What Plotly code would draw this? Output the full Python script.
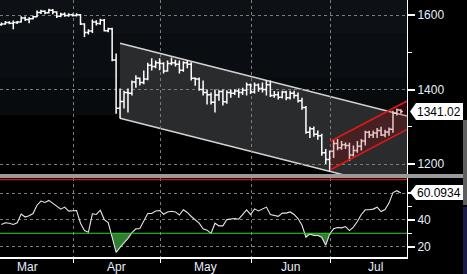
import plotly.graph_objects as go

# ---------------- data ----------------
# weekday index of each bar (0 = 1 March)
day = list(range(2, 104))

open_ = [1574, 1576, 1580, 1578, 1580, 1581, 1592, 1588, 1590, 1595, 1607, 1610, 1606, 1613, 1608, 1597, 1602, 1599, 1601,
         1599, 1601, 1576, 1553, 1557, 1581, 1577, 1586, 1558, 1563, 1479, 1350, 1368, 1392, 1390, 1420, 1430, 1419, 1428, 1465, 1462, 1472,
         1470, 1450, 1470, 1472, 1468, 1452, 1472, 1468, 1430, 1428, 1400, 1392, 1386, 1366, 1385, 1395, 1367, 1392, 1390, 1396, 1392, 1398, 1413,
         1393, 1412, 1403, 1400, 1413, 1384, 1386, 1379, 1393, 1378, 1390, 1384, 1370, 1352, 1285, 1295, 1280, 1276, 1230, 1212,
         1234, 1255, 1244, 1252, 1250, 1224, 1236, 1248, 1262, 1285, 1278, 1283, 1290, 1278, 1286, 1293, 1336, 1345]
high = [1580, 1584, 1583, 1585, 1584, 1597, 1596, 1594, 1598, 1612, 1614, 1613, 1617, 1616, 1610, 1606, 1607, 1605, 1604,
        1605, 1603, 1578, 1562, 1588, 1586, 1590, 1589, 1566, 1566, 1497, 1403, 1397, 1403, 1424, 1438, 1432, 1451, 1472, 1484, 1478, 1484,
        1473, 1478, 1486, 1480, 1478, 1476, 1478, 1473, 1432, 1432, 1424, 1400, 1392, 1400, 1398, 1400, 1398, 1400, 1400, 1403, 1405, 1419, 1416,
        1419, 1416, 1419, 1424, 1424, 1396, 1395, 1397, 1397, 1397, 1397, 1392, 1378, 1356, 1300, 1301, 1290, 1281, 1240, 1236,
        1267, 1267, 1262, 1258, 1257, 1250, 1262, 1267, 1289, 1289, 1290, 1297, 1300, 1292, 1298, 1343, 1349, 1347]
low = [1571, 1574, 1575, 1562, 1576, 1580, 1584, 1578, 1588, 1594, 1603, 1602, 1604, 1602, 1592, 1594, 1595, 1595, 1596,
       1596, 1573, 1541, 1548, 1552, 1572, 1574, 1556, 1554, 1476, 1335, 1322, 1349, 1338, 1384, 1405, 1411, 1414, 1425, 1451, 1457, 1452,
       1443, 1448, 1465, 1462, 1443, 1448, 1457, 1424, 1410, 1397, 1384, 1360, 1360, 1338, 1370, 1357, 1362, 1378, 1385, 1378, 1385, 1384, 1388,
       1389, 1394, 1392, 1384, 1380, 1378, 1373, 1376, 1371, 1373, 1376, 1365, 1346, 1281, 1270, 1273, 1265, 1222, 1200, 1181,
       1216, 1237, 1238, 1240, 1208, 1220, 1230, 1236, 1250, 1270, 1270, 1270, 1275, 1272, 1276, 1284, 1330, 1335]
close = [1576, 1580, 1578, 1580, 1581, 1592, 1588, 1590, 1595, 1607, 1610, 1606, 1613, 1608, 1597, 1602, 1599, 1601, 1599,
         1601, 1576, 1553, 1557, 1581, 1577, 1586, 1558, 1563, 1479, 1350, 1368, 1392, 1390, 1420, 1430, 1419, 1428, 1465, 1462, 1472, 1470,
         1450, 1470, 1472, 1468, 1452, 1472, 1468, 1430, 1428, 1400, 1392, 1386, 1366, 1385, 1395, 1367, 1392, 1390, 1396, 1392, 1398, 1413, 1393,
         1412, 1403, 1400, 1413, 1384, 1386, 1379, 1393, 1378, 1390, 1384, 1370, 1352, 1285, 1295, 1280, 1276, 1230, 1212, 1234,
         1255, 1244, 1252, 1250, 1224, 1236, 1248, 1262, 1285, 1278, 1283, 1290, 1278, 1286, 1293, 1336, 1345, 1341.02]
rsi = [36.5, 37.8, 37.5, 36.6, 37.8, 44.3, 42.1, 43.1, 44.7, 50.9, 54.0, 53.0, 54.5, 52.5, 50.5, 48.0, 49.5, 46.5, 46.8,
       47.0, 37.5, 32.0, 30.8, 44.5, 44.0, 47.2, 40.2, 38.0, 27.0, 15.7, 19.5, 22.8, 26.2, 30.5, 33.3, 33.5, 39.0, 44.7, 44.7, 46.6, 47.0,
       44.2, 45.9, 46.4, 45.9, 43.6, 47.5, 45.5, 42.5, 40.0, 37.5, 33.4, 32.3, 29.8, 37.5, 35.5, 35.5, 40.2, 40.5, 41.0, 40.5, 44.2, 47.5, 44.0,
       48.2, 46.6, 48.2, 49.5, 44.0, 43.4, 42.6, 45.0, 45.0, 45.9, 44.0, 41.0, 36.0, 27.0, 29.5, 28.3, 28.3, 27.0, 21.0, 29.5,
       33.3, 34.3, 34.0, 35.0, 32.0, 34.6, 38.8, 44.0, 47.5, 47.5, 48.0, 49.4, 46.2, 47.7, 52.5, 60.3, 61.7, 60.0934]

last_price_label = "1341.02"
last_rsi_label = "60.0934"

months = ["Mar", "Apr", "May", "Jun", "Jul"]
month_first_day = [-1, 21, 43, 66, 86]      # weekday index of each month's first bar
month_weekdays = [21, 22, 23, 20, 23]

price_ticks = [1200, 1400, 1600]
price_minor = [1300, 1500]
rsi_ticks = [20, 40, 60]
rsi_ticktext = ["20", "40", ""]
rsi_minor = [30, 50]
rsi_low, rsi_high = 30, 70

# trend channels (weekday index, price)
gray_chan_x = [31.98, 104.55]
gray_chan_top = [1524.0, 1328.9]
gray_chan_bot = [1322.7, 1127.8]
red_chan_x = [85.08, 104.55]
red_chan_top = [1260.4, 1369.1]
red_chan_bot = [1183.9, 1292.6]

# ---------------- layout helpers ----------------
W, H = 467, 274
PW, PH = 407, 257          # plot area in px
X_RANGE = [1.643, 104.55]
GRID_OFFSET = -0.8
boundaries = [m + GRID_OFFSET for m in month_first_day[1:]]
starts = [m + GRID_OFFSET for m in month_first_day]
label_pos = [s + n / 2 for s, n in zip(starts, month_weekdays)]


def px(xp):
    return xp / PW


def py(yp):
    return 1 - yp / PH


def ppath(pts):
    return "M " + " L ".join(f"{px(a):.5f},{py(b):.5f}" for a, b in pts) + " Z"


FONT = "Liberation Sans, Arial, sans-serif"
LABEL_COLOR = "#e4eefa"
GRID = dict(showgrid=True, gridcolor="#7c7c7c", griddash="3px,3px", gridwidth=1)

fig = go.Figure()

fig.add_trace(go.Ohlc(
    x=day, open=open_, high=high, low=low, close=close,
    increasing=dict(line=dict(color="white", width=1.5)),
    decreasing=dict(line=dict(color="white", width=1.5)),
    tickwidth=0.5, xaxis="x", yaxis="y", hoverinfo="skip", showlegend=False))

# RSI fill below 30
fill_x, fill_y = [], []
for i in range(len(day)):
    if i > 0:
        a, b = rsi[i - 1], rsi[i]
        if (a - rsi_low) * (b - rsi_low) < 0:
            t = (rsi_low - a) / (b - a)
            fill_x.append(day[i - 1] + t * (day[i] - day[i - 1]))
            fill_y.append(rsi_low)
    fill_x.append(day[i])
    fill_y.append(min(rsi[i], rsi_low))

fig.add_trace(go.Scatter(x=fill_x, y=[rsi_low] * len(fill_x), mode="lines",
                         line=dict(width=0, color="rgba(0,0,0,0)"), xaxis="x", yaxis="y2",
                         hoverinfo="skip", showlegend=False))
fig.add_trace(go.Scatter(x=fill_x, y=fill_y, mode="lines", fill="tonexty",
                         fillcolor="rgba(52,140,52,0.9)", line=dict(width=0, color="rgba(0,0,0,0)"),
                         xaxis="x", yaxis="y2", hoverinfo="skip", showlegend=False))
fig.add_trace(go.Scatter(x=day, y=rsi, mode="lines", line=dict(color="#e6e6e6", width=1.1),
                         xaxis="x", yaxis="y2", hoverinfo="skip", showlegend=False))

shapes = []
# upper panel background gradient bands
for y0, y1, col in [(0.339, 0.55, "#080b0e"), (0.55, 0.8, "#0a0d11"), (0.8, 1.0, "#0d1115")]:
    shapes.append(dict(type="rect", xref="x domain", yref="y domain", x0=0, x1=1, y0=y0, y1=y1,
                       fillcolor=col, line=dict(width=0), layer="below"))
# gray channel
shapes.append(dict(type="path", xref="x", yref="y", layer="below",
                   path=(f"M {gray_chan_x[0]},{gray_chan_top[0]} L {gray_chan_x[1]},{gray_chan_top[1]} "
                         f"L {gray_chan_x[1]},{gray_chan_bot[1]} L {gray_chan_x[0]},{gray_chan_bot[0]} Z"),
                   fillcolor="#2a2b2d", line=dict(width=0)))
for ys in (gray_chan_top, gray_chan_bot):
    shapes.append(dict(type="line", xref="x", yref="y", layer="below",
                       x0=gray_chan_x[0], x1=gray_chan_x[1], y0=ys[0], y1=ys[1],
                       line=dict(color="#d4d4d4", width=1.5)))
# red channel (over bars)
shapes.append(dict(type="path", xref="x", yref="y", layer="above",
                   path=(f"M {red_chan_x[0]},{red_chan_top[0]} L {red_chan_x[1]},{red_chan_top[1]} "
                         f"L {red_chan_x[1]},{red_chan_bot[1]} L {red_chan_x[0]},{red_chan_bot[0]} Z"),
                   fillcolor="rgba(170,0,0,0.22)", line=dict(width=0)))
for ys in (red_chan_top, red_chan_bot):
    shapes.append(dict(type="line", xref="x", yref="y", layer="above",
                       x0=red_chan_x[0], x1=red_chan_x[1], y0=ys[0], y1=ys[1],
                       line=dict(color="#e01818", width=1.5)))
# RSI levels
shapes.append(dict(type="line", xref="x domain", yref="y2", x0=0, x1=1, y0=rsi_high, y1=rsi_high,
                   line=dict(color="#d81010", width=1.2), layer="above"))
shapes.append(dict(type="line", xref="x domain", yref="y2", x0=0, x1=1, y0=rsi_low, y1=rsi_low,
                   line=dict(color="#30d030", width=1.2), layer="above"))
# separator band
shapes.append(dict(type="rect", xref="paper", yref="paper", x0=0, x1=px(W), y0=py(178), y1=py(174),
                   fillcolor="#9a9a9a", line=dict(width=0), layer="above"))
# right edge scrollbar pieces
shapes.append(dict(type="rect", xref="paper", yref="paper", x0=px(463), x1=px(467), y0=py(205), y1=py(120),
                   fillcolor="#5e5e5e", line=dict(width=0), layer="above"))
shapes.append(dict(type="rect", xref="paper", yref="paper", x0=px(463), x1=px(467), y0=py(274), y1=py(207),
                   fillcolor="#1a1a46", line=dict(width=0), layer="above"))
# value tags
shapes.append(dict(type="path", xref="paper", yref="paper", layer="above",
                   path=ppath([(410, 111.5), (416, 103), (463, 103), (463, 120), (416, 120)]),
                   fillcolor="white", line=dict(width=0)))
shapes.append(dict(type="path", xref="paper", yref="paper", layer="above",
                   path=ppath([(410, 192.5), (416, 185), (463, 185), (463, 200), (416, 200)]),
                   fillcolor="white", line=dict(width=0)))

annotations = []
for m, xpos in zip(months, label_pos):
    annotations.append(dict(x=xpos, xref="x", y=py(266.5), yref="paper", text=m, showarrow=False,
                            xanchor="center", yanchor="middle",
                            font=dict(family=FONT, size=12, color=LABEL_COLOR)))
annotations.append(dict(x=px(439.5), y=py(111.5), xref="paper", yref="paper", text=last_price_label,
                        showarrow=False, xanchor="center", yanchor="middle",
                        font=dict(family=FONT, size=12, color="black")))
annotations.append(dict(x=px(439.5), y=py(192.5), xref="paper", yref="paper", text=last_rsi_label,
                        showarrow=False, xanchor="center", yanchor="middle",
                        font=dict(family=FONT, size=12, color="black")))

fig.update_layout(
    width=W, height=H, autosize=False,
    margin=dict(l=0, r=W - PW, t=0, b=H - PH, pad=0),
    paper_bgcolor="black", plot_bgcolor="black",
    showlegend=False, hovermode=False,
    shapes=shapes, annotations=annotations,
    xaxis=dict(domain=[0, 1], range=X_RANGE, anchor="y2", tickmode="array", tickvals=boundaries,
               showticklabels=False, ticks="outside", ticklen=4, tickwidth=1, tickcolor="white",
               showline=True, linecolor="white", linewidth=1.5, zeroline=False,
               rangeslider=dict(visible=False), fixedrange=True, **GRID),
    yaxis=dict(domain=[1 - 174 / PH, 1], range=[1173.2, 1640.3], side="right", anchor="x",
               tickmode="array", tickvals=price_ticks, ticks="outside", ticklen=7, tickwidth=2,
               tickcolor="white", showline=True, linecolor="white", linewidth=1, zeroline=False,
               tickfont=dict(family=FONT, size=12, color=LABEL_COLOR), fixedrange=True,
               minor=dict(tickmode="array", tickvals=price_minor, ticks="outside", ticklen=4,
                          tickwidth=1, tickcolor="white", showgrid=False),
               **GRID),
    yaxis2=dict(domain=[0, 1 - 178 / PH], range=[12.3, 71.2], side="right", anchor="x",
                tickmode="array", tickvals=rsi_ticks, ticktext=rsi_ticktext, ticks="outside",
                ticklen=7, tickwidth=2, tickcolor="white", showline=True, linecolor="white",
                linewidth=1, zeroline=False, fixedrange=True,
                tickfont=dict(family=FONT, size=12, color=LABEL_COLOR),
                minor=dict(tickmode="array", tickvals=rsi_minor, ticks="outside", ticklen=4,
                           tickwidth=1, tickcolor="white", showgrid=False),
                **GRID),
)

fig.write_html("out.html", config={"displayModeBar": False, "staticPlot": True})
